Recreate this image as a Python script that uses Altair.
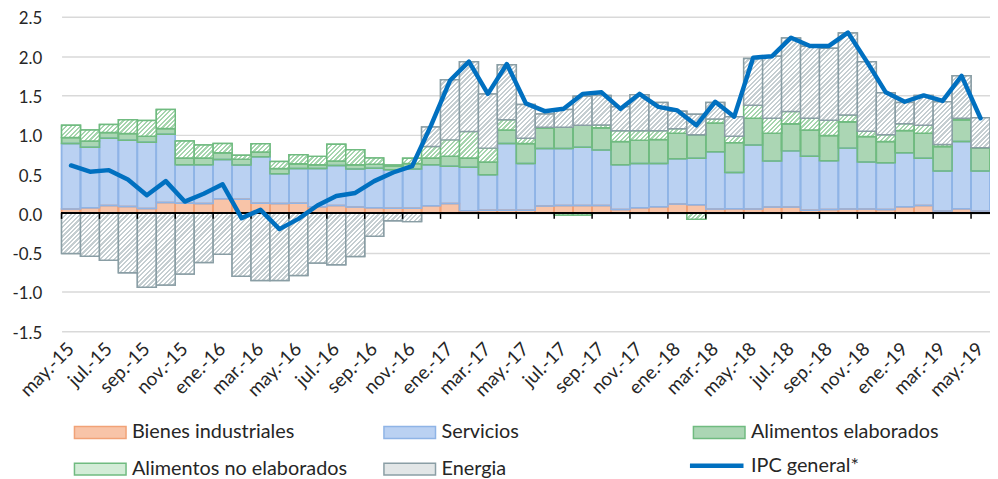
import altair as alt

meses = ["may.-15", "jun.-15", "jul.-15", "ago.-15", "sep.-15", "oct.-15", "nov.-15", "dic.-15",
         "ene.-16", "feb.-16", "mar.-16", "abr.-16", "may.-16", "jun.-16", "jul.-16", "ago.-16",
         "sep.-16", "oct.-16", "nov.-16", "dic.-16",
         "ene.-17", "feb.-17", "mar.-17", "abr.-17", "may.-17", "jun.-17", "jul.-17", "ago.-17",
         "sep.-17", "oct.-17", "nov.-17", "dic.-17",
         "ene.-18", "feb.-18", "mar.-18", "abr.-18", "may.-18", "jun.-18", "jul.-18", "ago.-18",
         "sep.-18", "oct.-18", "nov.-18", "dic.-18",
         "ene.-19", "feb.-19", "mar.-19", "abr.-19", "may.-19"]

bienes_industriales = [0.055, 0.07, 0.10, 0.088, 0.063, 0.138, 0.13, 0.126, 0.185, 0.18,
                       0.13, 0.125, 0.13, 0.085, 0.10, 0.08, 0.072, 0.065, 0.065, 0.097,
                       0.126, 0.035, 0.04, 0.04, 0.04, 0.095, 0.10, 0.10, 0.10, 0.05,
                       0.07, 0.084, 0.12, 0.11, 0.055, 0.06, 0.055, 0.08, 0.08, 0.04,
                       0.05, 0.055, 0.055, 0.05, 0.085, 0.10, 0.03, 0.06, 0.03]
servicios = [0.835, 0.77, 0.855, 0.842, 0.842, 0.867, 0.49, 0.494, 0.50, 0.435,
             0.59, 0.38, 0.44, 0.485, 0.51, 0.485, 0.503, 0.49, 0.50, 0.523,
             0.474, 0.552, 0.45, 0.85, 0.595, 0.73, 0.725, 0.74, 0.705, 0.57,
             0.565, 0.549, 0.575, 0.59, 0.73, 0.46, 0.815, 0.585, 0.715, 0.686,
             0.62, 0.775, 0.60, 0.595, 0.685, 0.60, 0.51, 0.855, 0.51]
alimentos_elaborados = [0.075, 0.08, 0.075, 0.085, 0.075, 0.075, 0.085, 0.085, 0.085, 0.075,
                        0.06, 0.065, 0.06, 0.05, 0.055, 0.055, 0.05, 0.05, 0.07, 0.085,
                        0.126, 0.118, 0.164, 0.17, 0.255, 0.26, 0.27, 0.28, 0.285, 0.295,
                        0.295, 0.307, 0.325, 0.30, 0.365, 0.38, 0.34, 0.355, 0.345, 0.334,
                        0.32, 0.335, 0.322, 0.27, 0.285, 0.32, 0.31, 0.275, 0.29]
alimentos_no_elaborados = [0.155, 0.14, 0.10, 0.175, 0.20, 0.24, 0.215, 0.165, 0.12, 0.05,
                           0.105, 0.09, 0.115, 0.105, 0.215, 0.19, 0.08, 0.01, 0.065, 0.145,
                           0.209, 0.335, 0.176, 0.13, 0.065, 0.01, -0.02, -0.02, 0.035, 0.135,
                           0.12, 0.11, 0.055, -0.075, 0.05, 0.08, 0.166, 0.19, 0.155, 0.15,
                           0.195, 0.085, 0.068, 0.085, 0.085, 0.10, 0.025, 0.02, 0.005]
energia = [-0.51, -0.545, -0.595, -0.755, -0.94, -0.91, -0.77, -0.625, -0.52, -0.80,
           -0.855, -0.855, -0.79, -0.63, -0.655, -0.55, -0.29, -0.095, -0.105, 0.25,
           0.765, 0.89, 0.69, 0.70, 0.43, 0.17, 0.225, 0.37, 0.375, 0.305,
           0.46, 0.36, 0.225, 0.26, 0.21, 0.25, 0.594, 0.79, 0.935, 0.915,
           0.915, 1.045, 0.885, 0.535, 0.27, 0.38, 0.545, 0.54, 0.38]
ipc_general = [0.61, 0.53, 0.55, 0.43, 0.23, 0.41, 0.15, 0.25, 0.37, -0.06,
               0.045, -0.20, -0.07, 0.10, 0.22, 0.26, 0.41, 0.52, 0.60, 1.12,
               1.69, 1.93, 1.52, 1.90, 1.40, 1.30, 1.33, 1.52, 1.54, 1.33,
               1.52, 1.355, 1.31, 1.12, 1.42, 1.23, 1.98, 2.0, 2.235, 2.13,
               2.13, 2.30, 1.93, 1.54, 1.42, 1.50, 1.43, 1.75, 1.21]

categorias = ["Bienes industriales", "Servicios", "Alimentos elaborados",
              "Alimentos no elaborados", "Energia"]
etiquetas_eje = meses[::2]
valores_y = [-1.5, -1.0, -0.5, 0.0, 0.5, 1.0, 1.5, 2.0, 2.5]

# styles
relleno = ["#f8c4a8", "#bad1f2", "#abd6b4", "#d3ecd7", "#e2e6e7"]
borde = ["#f1a277", "#8fb4e6", "#70bb80", "#70bb80", "#8a9ea5"]
rayado = {3: "#a6d5ae", 4: "#c5ced1"}

W, H = 936, 317
PX_UNIT = H / 4.0
BAND = W / len(meses)
PERIODO = 4.6
LABEL_GAP = 15 / 2 ** 0.5


def rayas(valor, color):
    w = BAND
    h = max(abs(valor) * PX_UNIT, 0.5)
    total = w + h
    lam = total / (w * w + h * h)
    half = PERIODO / 2.0
    n = int(total / half) + 1
    stops = []
    for i in range(n):
        c = color if i % 2 == 0 else "#ffffff"
        stops.append({"offset": min(i * half / total, 1.0), "color": c})
        stops.append({"offset": min((i + 1) * half / total, 1.0), "color": c})
    return {"gradient": "linear", "x1": 0, "y1": 0, "x2": lam * w, "y2": lam * h,
            "stops": stops}


series = [bienes_industriales, servicios, alimentos_elaborados,
          alimentos_no_elaborados, energia]

registros = []
for j, cat in enumerate(categorias):
    for i, mes in enumerate(meses):
        v = series[j][i]
        registros.append({
            "mes": mes, "cat": cat, "orden": j, "valor": v,
            "grad": rayas(v, rayado[j]) if j in rayado else "transparent",
            "borde": borde[j],
        })
barras_data = alt.Data(values=registros)
linea_data = alt.Data(values=[{"mes": m, "ipc": v, "serie": "IPC general*"}
                              for m, v in zip(meses, ipc_general)])
ticks_data = alt.Data(values=[{"mes": m} for m in etiquetas_eje])

x_scale = alt.Scale(domain=meses, paddingInner=0, paddingOuter=0)
y_scale = alt.Scale(domain=[-1.5, 2.5], nice=False, zero=False)

x_axis = alt.Axis(values=etiquetas_eje, labels=False, ticks=False, domain=False,
                  grid=False, title=None)
y_axis = alt.Axis(values=valores_y, grid=True, gridColor="#d9d9d9", gridWidth=1.5,
                  domain=False, ticks=False, labelFontSize=17, labelPadding=20,
                  labelOverlap=False, labelBound=False, labelFlush=False,
                  labelOffset=2, title=None,
                  labelExpr="(datum.value < 0 ? '-' : '') + format(abs(datum.value), '.1f')")

leyenda = alt.Legend(orient="none", legendX=12, legendY=392, direction="horizontal",
                     columns=3, gridAlign="all", columnPadding=34, rowPadding=-22,
                     symbolType="M-1,-0.23H1V0.23H-1Z", symbolSize=2704,
                     symbolStrokeWidth=1.5, labelFontSize=20, labelOffset=5,
                     labelLimit=500, title=None, padding=0)

capa_a = alt.Chart(barras_data).mark_bar(strokeWidth=1.5).encode(
    x=alt.X("mes:N", sort=meses, scale=x_scale, axis=x_axis),
    y=alt.Y("valor:Q", stack="zero", scale=y_scale, axis=y_axis),
    fill=alt.Fill("cat:N", scale=alt.Scale(domain=categorias, range=relleno), legend=leyenda),
    stroke=alt.Stroke("cat:N", scale=alt.Scale(domain=categorias, range=borde), legend=leyenda),
    order=alt.Order("orden:Q"),
)

capa_b = alt.Chart(barras_data).mark_bar(strokeWidth=1.5).encode(
    x=alt.X("mes:N", sort=meses, scale=x_scale, axis=x_axis),
    y=alt.Y("valor:Q", stack="zero", scale=y_scale, axis=y_axis),
    fill=alt.Fill("grad:N", scale=None, legend=None),
    stroke=alt.Stroke("borde:N", scale=None, legend=None),
    order=alt.Order("orden:Q"),
)

linea_cero = alt.Chart(linea_data).mark_rule(color="black", strokeWidth=1.5).encode(
    y=alt.datum(0, scale=y_scale, axis=y_axis)
)

marcas = alt.Chart(ticks_data).mark_rule(color="black", strokeWidth=1.5,
                                          xOffset=-BAND / 2).encode(
    x=alt.X("mes:N", sort=meses, scale=x_scale, axis=x_axis),
    y=alt.datum(0, axis=y_axis),
    y2=alt.datum(-0.07),
)

etiquetas = alt.Chart(ticks_data).mark_text(
    angle=315, align="right", baseline="middle", dx=-LABEL_GAP, dy=LABEL_GAP,
    fontSize=19, font="Lato", color="#262626"
).encode(
    x=alt.X("mes:N", sort=meses, scale=x_scale, axis=x_axis),
    y=alt.datum(-1.5, axis=y_axis),
    text="mes:N",
)

linea = alt.Chart(linea_data).mark_line(strokeWidth=4.5, strokeCap="round",
                                        strokeJoin="round").encode(
    x=alt.X("mes:N", sort=meses, scale=x_scale, axis=x_axis),
    y=alt.Y("ipc:Q", scale=y_scale, axis=y_axis),
    color=alt.Color("serie:N", scale=alt.Scale(range=["#0070C0"]),
                    legend=alt.Legend(orient="none", legendX=631, legendY=423,
                                      symbolType="stroke", symbolSize=2916,
                                      symbolStrokeWidth=4.5, labelFontSize=20,
                                      labelOffset=5, labelLimit=500,
                                      title=None, padding=0)),
)

chart = alt.layer(capa_a, capa_b, linea_cero, marcas, etiquetas, linea).properties(
    width=W, height=H,
    autosize=alt.AutoSizeParams(type="none"),
    padding={"left": 54, "top": 7, "right": 0, "bottom": 147},
).configure_view(stroke=None).configure_axis(
    labelFont="Lato", labelColor="#262626", labelOverlap=False,
    labelBound=False, labelFlush=False
).configure_legend(
    labelFont="Lato", labelColor="#262626"
)

chart.save("out.html", embed_options={"renderer": "svg", "actions": False})
